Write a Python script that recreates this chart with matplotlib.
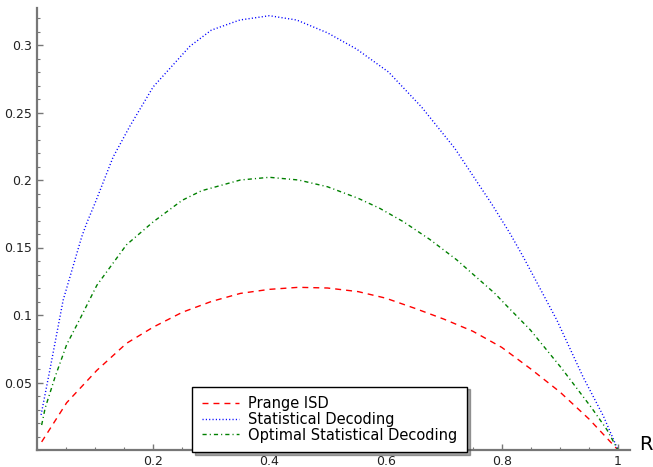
import matplotlib
matplotlib.use('Agg')
import matplotlib.pyplot as plt
from matplotlib.ticker import MultipleLocator, FixedLocator

# values
r_prange = [0.008, 0.051, 0.103, 0.154, 0.2, 0.25, 0.3, 0.35, 0.4, 0.45, 0.5,
            0.553, 0.6, 0.65, 0.7, 0.75, 0.8, 0.85, 0.9, 0.95, 1.0]
prange = [0.006, 0.035, 0.059, 0.079, 0.091, 0.102, 0.110, 0.116, 0.119, 0.1205, 0.120,
          0.1173, 0.1125, 0.105, 0.097, 0.088, 0.076, 0.060, 0.043, 0.023, 0.0]

r_stat = [0.007, 0.022, 0.045, 0.077, 0.0855, 0.1, 0.131, 0.16, 0.2, 0.263, 0.3, 0.349, 0.4,
          0.447, 0.5, 0.55, 0.605, 0.662, 0.719, 0.783, 0.814, 0.837, 0.895, 0.94, 0.975, 1.0]
stat = [0.026, 0.059, 0.111, 0.158, 0.168, 0.183, 0.217, 0.240, 0.269, 0.299, 0.311, 0.3185, 0.3217,
        0.3185, 0.309, 0.297, 0.280, 0.254, 0.2235, 0.182, 0.1605, 0.143, 0.096, 0.054, 0.025, 0.0]

r_opt = [0.008, 0.014, 0.031, 0.051, 0.075, 0.103, 0.154, 0.2, 0.25, 0.283, 0.35, 0.4,
         0.45, 0.5, 0.553, 0.59, 0.631, 0.676, 0.722, 0.788, 0.808, 0.849, 0.903, 0.955, 0.981, 1.0]
opt = [0.0185, 0.031, 0.054, 0.078, 0.098, 0.122, 0.152, 0.169, 0.185, 0.192, 0.200, 0.202,
       0.200, 0.195, 0.1864, 0.179, 0.169, 0.156, 0.141, 0.116, 0.107, 0.089, 0.0605, 0.031, 0.015, 0.0]

x_ticks = [0.2, 0.4, 0.6, 0.8, 1.0]
x_labels = ['0.2', '0.4', '0.6', '0.8', '1']
y_ticks = [0.05, 0.1, 0.15, 0.2, 0.25, 0.3]
y_labels = ['0.05', '0.1', '0.15', '0.2', '0.25', '0.3']

fig = plt.figure(figsize=(6.53, 4.67), dpi=100)
ax = fig.add_axes([37 / 653, 17 / 467, 593 / 653, 442 / 467])

l1, = ax.plot(r_prange, prange, color='#ff0000', linestyle='--', linewidth=1, label='Prange ISD')
l2, = ax.plot(r_stat, stat, color='#0000ff', linestyle=':', linewidth=1, label='Statistical Decoding')
l3, = ax.plot(r_opt, opt, color='#008000', linestyle='-.', linewidth=1, label='Optimal Statistical Decoding')
l1.set_dashes([4.3, 3.6])
l2.set_dashes([0.8, 1.6])
l3.set_dashes([3, 2.2, 0.8, 2.2])

ax.set_xlim(0, 593 / 581)
ax.set_ylim(0, 442 / 1350)

# sage-like axes: only left and bottom lines
for side in ['top', 'right']:
    ax.spines[side].set_visible(False)
for side in ['left', 'bottom']:
    ax.spines[side].set_color('#777777')
    ax.spines[side].set_linewidth(1.6)

ax.xaxis.set_major_locator(FixedLocator(x_ticks))
ax.set_xticklabels(x_labels)
ax.yaxis.set_major_locator(FixedLocator(y_ticks))
ax.set_yticklabels(y_labels)
ax.xaxis.set_minor_locator(MultipleLocator(0.05))
ax.yaxis.set_minor_locator(MultipleLocator(0.01))
ax.tick_params(which='major', direction='in', length=4, width=1, color='#777777',
               labelsize=9, labelcolor='#222222')
ax.tick_params(which='minor', direction='in', length=2, width=0.8, color='#777777')

fig.text(639 / 653, 1 - 445 / 467, 'R', fontsize=14, va='center', ha='left')

leg = ax.legend(loc='lower center', bbox_to_anchor=(329.5 / 653, 15 / 467),
                bbox_transform=fig.transFigure, borderaxespad=0, fontsize=10.5,
                handlelength=2.6, handletextpad=0.6, labelspacing=0.05, fancybox=False,
                shadow=True, framealpha=1, borderpad=0.65)
leg.get_frame().set_edgecolor('black')
leg.get_frame().set_linewidth(1)

plt.savefig('out.png', dpi=100)
plt.close(fig)
